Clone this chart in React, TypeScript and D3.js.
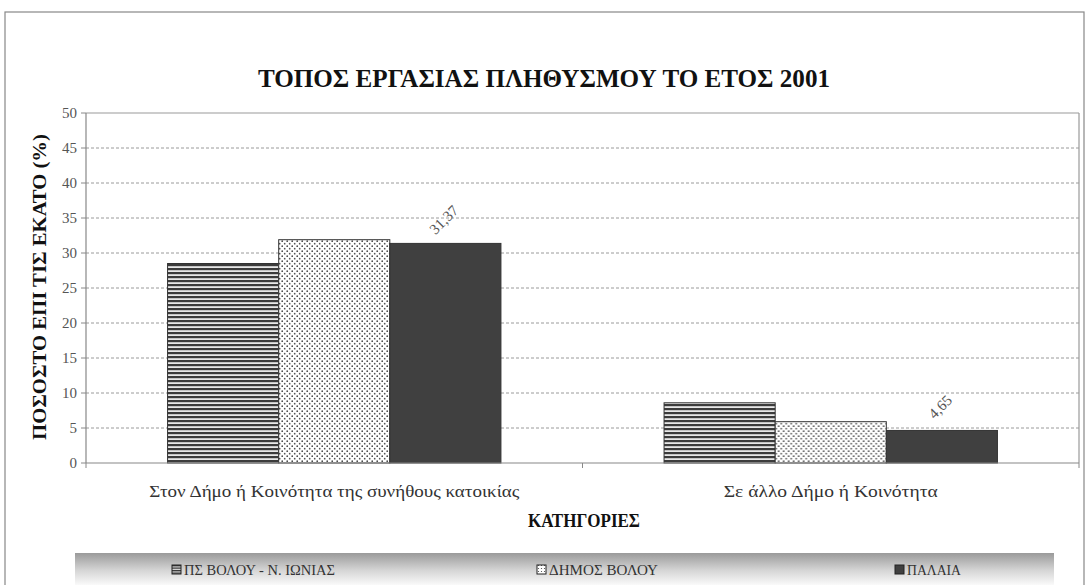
import React from "react";
import * as d3 from "d3";

const categories = ["Στον Δήμο ή Κοινότητα της συνήθους κατοικίας", "Σε άλλο Δήμο ή Κοινότητα"];
const seriesNames = ["ΠΣ ΒΟΛΟΥ - Ν. ΙΩΝΙΑΣ", "ΔΗΜΟΣ ΒΟΛΟΥ", "ΠΑΛΑΙΑ"];
const seriesPS = [28.5, 8.6];
const seriesVolos = [31.9, 5.9];
const seriesPalaia = [31.37, 4.65];
const yTicks = [0, 5, 10, 15, 20, 25, 30, 35, 40, 45, 50];
const labelledSeries = [false, false, true];

const W = 1086;
const H = 585;
const FONT = "'Liberation Serif', 'DejaVu Serif', serif";

export default function App() {
  const values = [seriesPS, seriesVolos, seriesPalaia];
  const left = 86, right = 1079, top = 113, bottom = 463;
  const x0 = d3.scaleBand<string>().domain(categories).range([left, right]).paddingInner(0).paddingOuter(0);
  const x1 = d3.scaleBand<number>().domain([0, 1, 2]).range([0, x0.bandwidth()]).paddingInner(0).paddingOuter(0.734);
  const y = d3.scaleLinear().domain([0, 50]).range([bottom, top]);
  const fills = ["url(#stripes)", "url(#dots)", "#404040"];
  const fmt = (v: number) => v.toFixed(2).replace(".", ",");
  const legendX = [172, 537, 895];
  const legendW = [163, 121, 66];

  return (
    <svg width={W} height={H} style={{ position: "absolute", left: 0, top: 0, background: "#fff" }}>
      <defs>
        <pattern id="stripes" width="8" height="4" patternUnits="userSpaceOnUse">
          <rect width="8" height="4" fill="#e8e8e8" />
          <rect y="0" width="8" height="2.2" fill="#3c3c3c" />
        </pattern>
        <pattern id="dots" width="5" height="5" patternUnits="userSpaceOnUse">
          <rect width="5" height="5" fill="#fff" />
          <circle cx="1.2" cy="1.2" r="0.85" fill="#444" />
          <circle cx="3.7" cy="3.7" r="0.85" fill="#555" />
        </pattern>
        <pattern id="stripesSmall" width="4" height="2.5" patternUnits="userSpaceOnUse">
          <rect width="4" height="2.5" fill="#ddd" />
          <rect width="4" height="1.3" fill="#333" />
        </pattern>
        <pattern id="dotsSmall" width="3" height="3" patternUnits="userSpaceOnUse">
          <rect width="3" height="3" fill="#fff" />
          <circle cx="1.5" cy="1.5" r="0.6" fill="#444" />
        </pattern>
        <linearGradient id="legGrad" x1="0" y1="0" x2="0" y2="1">
          <stop offset="0" stopColor="#9a9a9a" />
          <stop offset="0.5" stopColor="#d4d4d4" />
          <stop offset="1" stopColor="#ffffff" />
        </linearGradient>
      </defs>

      {/* outer frame */}
      <rect x={5} y={12} width={1079} height={600} fill="none" stroke="#888" strokeWidth={1.2} />

      {/* title */}
      <text x={544} y={87} textAnchor="middle" fontFamily={FONT} fontWeight="bold" fontSize={26}
        textLength={572} lengthAdjust="spacingAndGlyphs" fill="#111">
        ΤΟΠΟΣ ΕΡΓΑΣΙΑΣ ΠΛΗΘΥΣΜΟΥ ΤΟ ΕΤΟΣ 2001
      </text>

      {/* gridlines */}
      {yTicks.filter((t) => t > 0 && t < 50).map((t) => (
        <line key={"g" + t} x1={left} x2={right} y1={y(t)} y2={y(t)} stroke="#9a9a9a" strokeDasharray="3,2" strokeWidth={1} />
      ))}
      {/* plot border */}
      <line x1={left} x2={right} y1={y(50)} y2={y(50)} stroke="#999" strokeWidth={1.2} />
      <line x1={right} x2={right} y1={y(50)} y2={y(0)} stroke="#999" strokeWidth={1.2} />
      <line x1={left} x2={left} y1={y(50)} y2={y(0)} stroke="#888" strokeWidth={1.2} />

      {/* y ticks */}
      {yTicks.map((t) => (
        <g key={"t" + t}>
          <line x1={left - 5} x2={left} y1={y(t)} y2={y(t)} stroke="#888" />
          <text x={left - 9} y={y(t) + 5} textAnchor="end" fontFamily={FONT} fontSize={15} fill="#555">{t}</text>
        </g>
      ))}

      {/* bars */}
      {categories.map((c, ci) => (
        <g key={c} transform={`translate(${x0(c)},0)`}>
          {values.map((s, si) => (
            <rect key={si} x={x1(si)} y={y(s[ci])} width={x1.bandwidth()} height={y(0) - y(s[ci])}
              fill={fills[si]} stroke="#333" strokeWidth={1} />
          ))}
          {values.map((s, si) =>
            labelledSeries[si] ? (
              <text key={"l" + si} fontFamily={FONT} fontSize={15} fill="#555" textAnchor="middle"
                transform={`translate(${(x1(si) as number) + x1.bandwidth() / 2 + 2},${y(s[ci]) - 20}) rotate(-45)`}>
                {fmt(s[ci])}
              </text>
            ) : null
          )}
        </g>
      ))}

      {/* x axis */}
      <line x1={left} x2={right} y1={y(0)} y2={y(0)} stroke="#888" strokeWidth={1.2} />
      {[left, ...categories.map((c) => (x0(c) as number) + x0.bandwidth())].map((xv, i) => (
        <line key={"xt" + i} x1={xv} x2={xv} y1={y(0)} y2={y(0) + 5} stroke="#888" />
      ))}
      {categories.map((c, i) => (
        <text key={"xl" + c} x={(x0(c) as number) + x0.bandwidth() / 2} y={497} textAnchor="middle"
          fontFamily={FONT} fontSize={16} fill="#333" textLength={i === 0 ? 370 : 214} lengthAdjust="spacingAndGlyphs">
          {c}
        </text>
      ))}

      {/* axis titles */}
      <text x={584} y={527} textAnchor="middle" fontFamily={FONT} fontWeight="bold" fontSize={18} fill="#111"
        textLength={112} lengthAdjust="spacingAndGlyphs">ΚΑΤΗΓΟΡΙΕΣ</text>
      <text transform={`translate(46,287) rotate(-90)`} textAnchor="middle" fontFamily={FONT} fontWeight="bold"
        fontSize={18} fill="#111" textLength={306} lengthAdjust="spacingAndGlyphs">ΠΟΣΟΣΤΟ ΕΠΙ ΤΙΣ ΕΚΑΤΟ (%)</text>

      {/* legend */}
      <rect x={75} y={553} width={979} height={34} fill="url(#legGrad)" />
      {seriesNames.map((n, i) => (
        <g key={n}>
          <rect x={legendX[i]} y={565} width={9} height={9}
            fill={i === 0 ? "url(#stripesSmall)" : i === 1 ? "url(#dotsSmall)" : "#404040"} stroke="#222" strokeWidth={1} />
          <text x={legendX[i] + 12} y={575} fontFamily={FONT} fontSize={15} fill="#333"
            textLength={legendW[i] - 12} lengthAdjust="spacingAndGlyphs">{n}</text>
        </g>
      ))}
    </svg>
  );
}
